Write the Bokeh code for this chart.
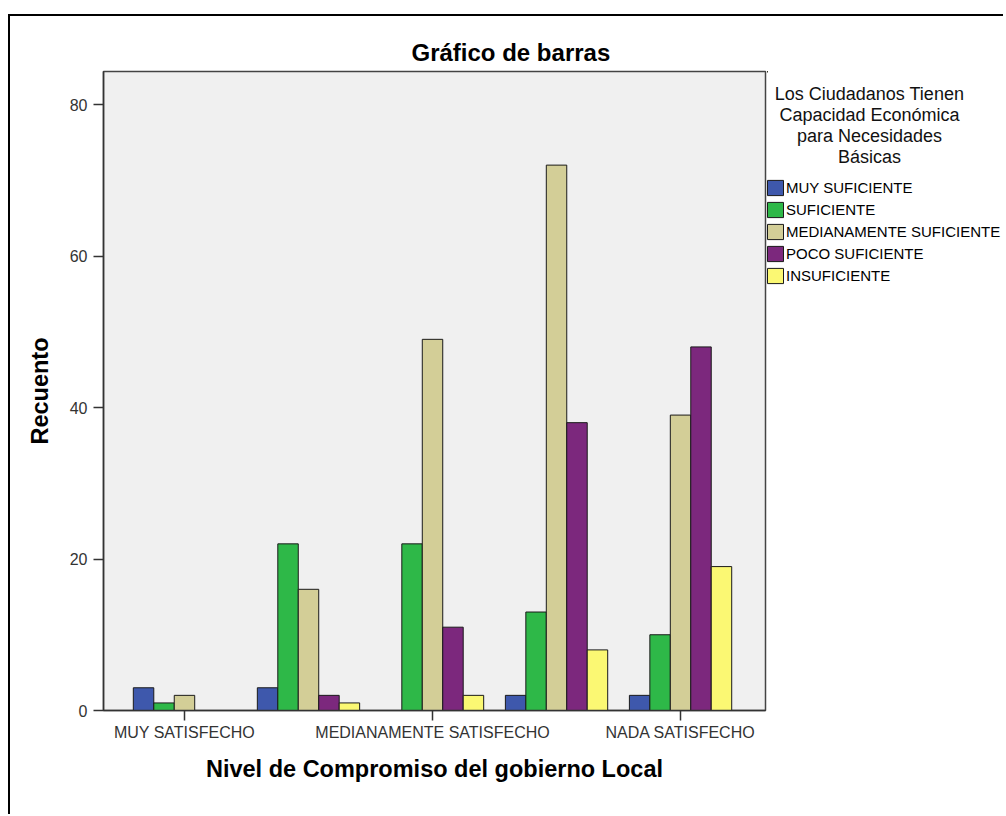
from bokeh.plotting import figure
from bokeh.layouts import row
from bokeh.models import Range1d, FixedTicker, Legend, LegendItem, ColumnDataSource
from bokeh.core.properties import value
from bokeh.embed import file_html
from bokeh.resources import INLINE

# ---- data ----
categories = ["MUY SATISFECHO", "SATISFECHO", "MEDIANAMENTE SATISFECHO",
              "POCO SATISFECHO", "NADA SATISFECHO"]
series = ["MUY SUFICIENTE", "SUFICIENTE", "MEDIANAMENTE SUFICIENTE",
          "POCO SUFICIENTE", "INSUFICIENTE"]
muy_suficiente = [3, 3, 0, 2, 2]
suficiente = [1, 22, 22, 13, 10]
medianamente_suficiente = [2, 16, 49, 72, 39]
poco_suficiente = [0, 2, 11, 38, 48]
insuficiente = [0, 1, 2, 8, 19]
labeled_ticks = [0, 2, 4]
y_ticks = [0, 20, 40, 60, 80]
legend_title_lines = ["Los Ciudadanos Tienen", "Capacidad Económica",
                      "para Necesidades", "Básicas"]
chart_title = "Gráfico de barras"
x_title = "Nivel de Compromiso del gobierno Local"
y_title = "Recuento"

# ---- style ----
colors = ["#3E58AC", "#2EB848", "#D3CE97", "#7C287D", "#FBF873"]
FONT = "Liberation Sans"
BAR_W = 0.165
H = 798
FRAME_TOP, FRAME_BOTTOM = 71, 710        # page pixels of the plot frame
LEG_LEFT, LEG_RIGHT = 767, 1003          # page pixels of the legend panel

values = [muy_suficiente, suficiente, medianamente_suficiente,
          poco_suficiente, insuficiente]

p = figure(width=757, height=H, output_backend="svg", toolbar_location=None,
           x_range=Range1d(-0.653, 4.685), y_range=Range1d(0, 84.36),
           min_border_left=93, min_border_right=2, min_border_top=55,
           min_border_bottom=104)

p.background_fill_color = "#F0F0F0"
p.border_fill_color = "white"
p.outline_line_color = "#444444"
p.outline_line_width = 1.5
p.xgrid.visible = False
p.ygrid.visible = False

for j, (name, vals) in enumerate(zip(series, values)):
    xs = [i + (j - 2) * BAR_W for i in range(len(categories))]
    src = ColumnDataSource(dict(x=xs, top=vals, cat=categories))
    p.vbar(x="x", top="top", bottom=0, width=BAR_W, source=src,
           fill_color=colors[j], line_color="#1a1a1a", line_width=1)

# axes
p.xaxis.ticker = FixedTicker(ticks=labeled_ticks)
p.xaxis.major_label_overrides = {i: categories[i] for i in labeled_ticks}
p.yaxis.ticker = FixedTicker(ticks=y_ticks)
for ax in (p.xaxis, p.yaxis):
    ax.axis_line_color = "#333333"
    ax.axis_line_width = 1.5
    ax.major_tick_line_color = "#333333"
    ax.major_tick_line_width = 1.5
    ax.major_tick_out = 10
    ax.major_tick_in = 0
    ax.minor_tick_out = 0
    ax.minor_tick_in = 0
    ax.major_label_text_font = FONT
    ax.major_label_text_font_size = "16px"
    ax.major_label_text_color = "#333333"
    ax.axis_label_text_font = FONT
    ax.axis_label_text_font_size = "23.5px"
    ax.axis_label_text_font_style = "bold"
    ax.axis_label_text_color = "black"
p.xaxis.major_label_standoff = 3
p.yaxis.major_label_standoff = 6
p.xaxis.axis_label = x_title
p.yaxis.axis_label = y_title
p.xaxis.axis_label_standoff = 12
p.yaxis.axis_label_standoff = 14

# chart title
p.title.text = chart_title
p.title.align = "left"
p.title.offset = 308
p.title.standoff = 12
p.title.text_font = FONT
p.title.text_font_size = "24px"
p.title.text_font_style = "bold"
p.title.text_color = "black"

# ---- legend panel (second figure, page-pixel data space) ----
W2 = LEG_RIGHT - LEG_LEFT
q = figure(width=W2, height=H, output_backend="svg", toolbar_location=None,
           x_range=Range1d(LEG_LEFT, LEG_RIGHT),
           y_range=Range1d(FRAME_BOTTOM, FRAME_TOP),
           min_border_left=0, min_border_right=0, min_border_top=55,
           min_border_bottom=104, x_axis_type=None, y_axis_type=None)
q.outline_line_color = None
q.background_fill_color = "white"
q.border_fill_color = "white"
q.xgrid.visible = False
q.ygrid.visible = False

tsrc = ColumnDataSource(dict(
    x=[869] * len(legend_title_lines),
    y=[93 + 21.3 * k for k in range(len(legend_title_lines))],
    text=legend_title_lines))
q.text(x="x", y="y", text="text", source=tsrc, text_font=value(FONT),
       text_font_size="18px", text_align="center", text_baseline="middle",
       text_color="#111111")

# legend proxies: same series, drawn in this panel's (off-range) space
proxies = []
for j, (name, vals) in enumerate(zip(series, values)):
    r = q.vbar(x=list(range(len(categories))), top=vals, width=BAR_W,
               fill_color=colors[j], line_color="#1a1a1a", line_width=1)
    proxies.append((name, r))

legend = Legend(items=[LegendItem(label=n, renderers=[r]) for n, r in proxies],
                location=(-2, FRAME_BOTTOM - 284.5), orientation="vertical",
                glyph_width=20, glyph_height=19, label_height=19,
                spacing=3, label_standoff=1, padding=0, margin=0,
                border_line_alpha=0, background_fill_alpha=0,
                label_text_font=FONT, label_text_font_size="15px",
                label_text_color="black", label_text_baseline="middle")
q.add_layout(legend, "center")

layout = row(p, q)
layout.styles = {"margin-left": "8px", "margin-top": "14px",
                 "border-top": "2px solid black", "border-left": "2px solid black"}
open("out.html", "w").write(file_html(layout, INLINE))
